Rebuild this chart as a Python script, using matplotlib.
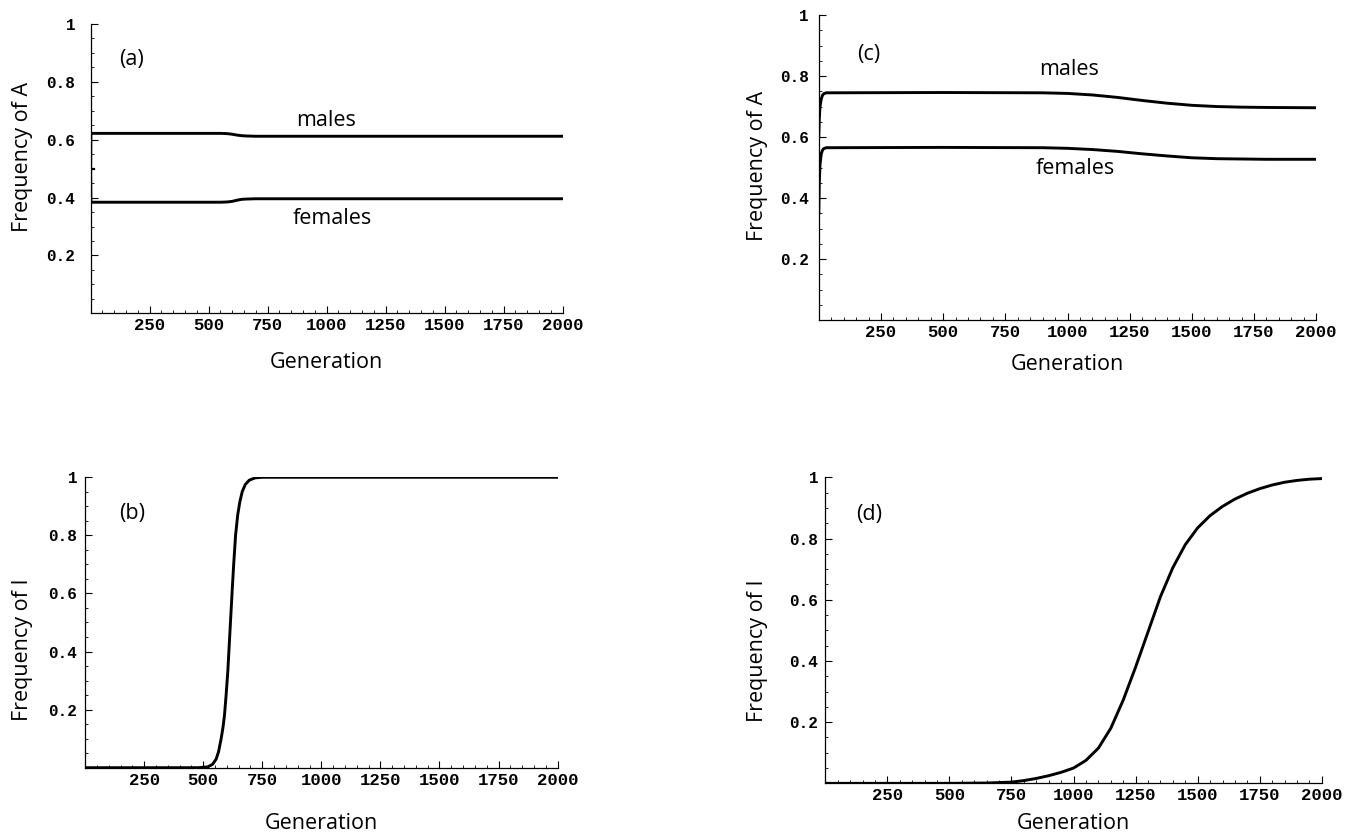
import matplotlib
matplotlib.use("Agg")
import matplotlib.pyplot as plt
from matplotlib.ticker import MultipleLocator, FixedLocator

# ---- data ----
# panel (a): frequency of A, males / females
gen_a = [0, 1, 550, 580, 600, 620, 640, 660, 700, 2000]
males_a = [0.5, 0.622, 0.622, 0.621, 0.619, 0.616, 0.614, 0.613, 0.612, 0.612]
females_a = [0.5, 0.384, 0.384, 0.385, 0.387, 0.391, 0.394, 0.395, 0.396, 0.396]
# the short dash at the starting value 0.5
start_gen_a = [0, 16]
start_val_a = [0.5, 0.5]

# panel (b): frequency of I
gen_b = [0, 480, 520, 540, 555, 565, 576, 584, 590, 597, 604, 610, 616, 622,
         629, 637, 646, 655, 665, 678, 695, 720, 750, 2000]
freq_i_b = [0.0, 0.0, 0.003, 0.012, 0.03, 0.055, 0.1, 0.14, 0.18, 0.25, 0.33,
            0.42, 0.51, 0.6, 0.7, 0.8, 0.87, 0.915, 0.95, 0.975, 0.99, 0.998,
            1.0, 1.0]

# panel (c): frequency of A, males / females
gen_c = [0, 2, 5, 10, 15, 20, 30, 500, 900, 1000, 1100, 1200, 1300, 1400,
         1500, 1600, 1700, 1800, 2000]
males_c = [0.60, 0.66, 0.70, 0.725, 0.737, 0.742, 0.745, 0.746, 0.745, 0.743,
           0.738, 0.73, 0.72, 0.711, 0.704, 0.700, 0.698, 0.697, 0.696]
females_c = [0.35, 0.45, 0.51, 0.545, 0.557, 0.562, 0.565, 0.566, 0.565, 0.563,
             0.559, 0.553, 0.545, 0.538, 0.532, 0.529, 0.528, 0.527, 0.527]

# panel (d): frequency of I
gen_d = [0, 500, 650, 750, 800, 850, 900, 950, 1000, 1050, 1100, 1150, 1200,
         1250, 1300, 1350, 1400, 1450, 1500, 1550, 1600, 1650, 1700, 1750,
         1800, 1850, 1900, 1950, 2000]
freq_i_d = [0.0, 0.0, 0.001, 0.004, 0.009, 0.016, 0.025, 0.036, 0.05, 0.075,
            0.115, 0.18, 0.272, 0.38, 0.495, 0.61, 0.705, 0.78, 0.835, 0.875,
            0.905, 0.929, 0.948, 0.963, 0.975, 0.984, 0.99, 0.994, 0.996]

x_ticks = [250, 500, 750, 1000, 1250, 1500, 1750, 2000]
y_ticks = [0.2, 0.4, 0.6, 0.8, 1.0]
y_tick_labels = ["0.2", "0.4", "0.6", "0.8", "1"]

LABEL_FONT = "Open Sans"
TICK_FONT = "Liberation Mono"
LABEL_SIZE = 15.5


def style_axes(ax, ylabel, panel, panel_xy, xlabel_y, ylabel_xy, ypad):
    # Mathematica-like frame: only the two axes, ticks pointing inwards
    ax.set_xlim(0, 2000)
    ax.set_ylim(0, 1)
    for side in ["top", "right"]:
        ax.spines[side].set_visible(False)
    for side in ["left", "bottom"]:
        ax.spines[side].set_linewidth(0.9)
    ax.xaxis.set_major_locator(FixedLocator(x_ticks))
    ax.xaxis.set_minor_locator(MultipleLocator(50))
    ax.yaxis.set_major_locator(FixedLocator(y_ticks))
    ax.yaxis.set_minor_locator(MultipleLocator(0.05))
    ax.set_xticklabels([str(t) for t in x_ticks])
    ax.set_yticklabels(y_tick_labels)
    ax.tick_params(which="major", direction="in", length=5, width=0.8)
    ax.tick_params(which="minor", direction="in", length=2.5, width=0.6)
    ax.tick_params(axis="x", which="major", pad=3.5)
    ax.tick_params(axis="y", which="major", pad=ypad)
    for lab in ax.get_xticklabels():
        lab.set_fontfamily(TICK_FONT)
        lab.set_fontsize(12.5)
        lab.set_fontweight("bold")
    for lab in ax.get_yticklabels():
        lab.set_fontfamily(TICK_FONT)
        lab.set_fontsize(11.5)
        lab.set_fontweight("bold")
    ax.set_xlabel("Generation", fontfamily=LABEL_FONT, fontsize=LABEL_SIZE)
    ax.set_ylabel(ylabel, fontfamily=LABEL_FONT, fontsize=LABEL_SIZE)
    ax.xaxis.set_label_coords(0.5, xlabel_y)
    ax.yaxis.set_label_coords(*ylabel_xy)
    ax.text(panel_xy[0], panel_xy[1], panel, fontfamily=LABEL_FONT,
            fontsize=LABEL_SIZE, ha="center", va="center")


fig = plt.figure(figsize=(13.61, 8.36), dpi=100)

# (a)
ax_a = fig.add_axes([0.0666, 0.6252, 0.3468, 0.3461])
ax_a.plot(gen_a, males_a, color="black", lw=2.1)
ax_a.plot(gen_a, females_a, color="black", lw=2.1)
ax_a.plot(start_gen_a, start_val_a, color="black", lw=1.6)
ax_a.text(998, 0.668, "males", fontfamily=LABEL_FONT, fontsize=LABEL_SIZE, ha="center", va="center")
ax_a.text(1022, 0.328, "females", fontfamily=LABEL_FONT, fontsize=LABEL_SIZE, ha="center", va="center")
style_axes(ax_a, "Frequency of A", "(a)", (174, 0.879), -0.135, (-0.122, 0.54), 11)

# (b)
ax_b = fig.add_axes([0.0625, 0.0817, 0.3472, 0.3474])
ax_b.plot(gen_b, freq_i_b, color="black", lw=2.1)
style_axes(ax_b, "Frequency of I", "(b)", (199, 0.874), -0.157, (-0.110, 0.405), 5.5)

# (c)
ax_c = fig.add_axes([0.6016, 0.6172, 0.3655, 0.3648])
ax_c.plot(gen_c, males_c, color="black", lw=2.1)
ax_c.plot(gen_c, females_c, color="black", lw=2.1)
ax_c.text(1007, 0.82, "males", fontfamily=LABEL_FONT, fontsize=LABEL_SIZE, ha="center", va="center")
ax_c.text(1033, 0.497, "females", fontfamily=LABEL_FONT, fontsize=LABEL_SIZE, ha="center", va="center")
style_axes(ax_c, "Frequency of A", "(c)", (200, 0.869), -0.11, (-0.102, 0.506), 7)

# (d)
ax_d = fig.add_axes([0.6064, 0.0630, 0.3648, 0.3660])
ax_d.plot(gen_d, freq_i_d, color="black", lw=2.1)
style_axes(ax_d, "Frequency of I", "(d)", (178, 0.88), -0.098, (-0.115, 0.433), 5)

fig.savefig("out.png", dpi=100)
